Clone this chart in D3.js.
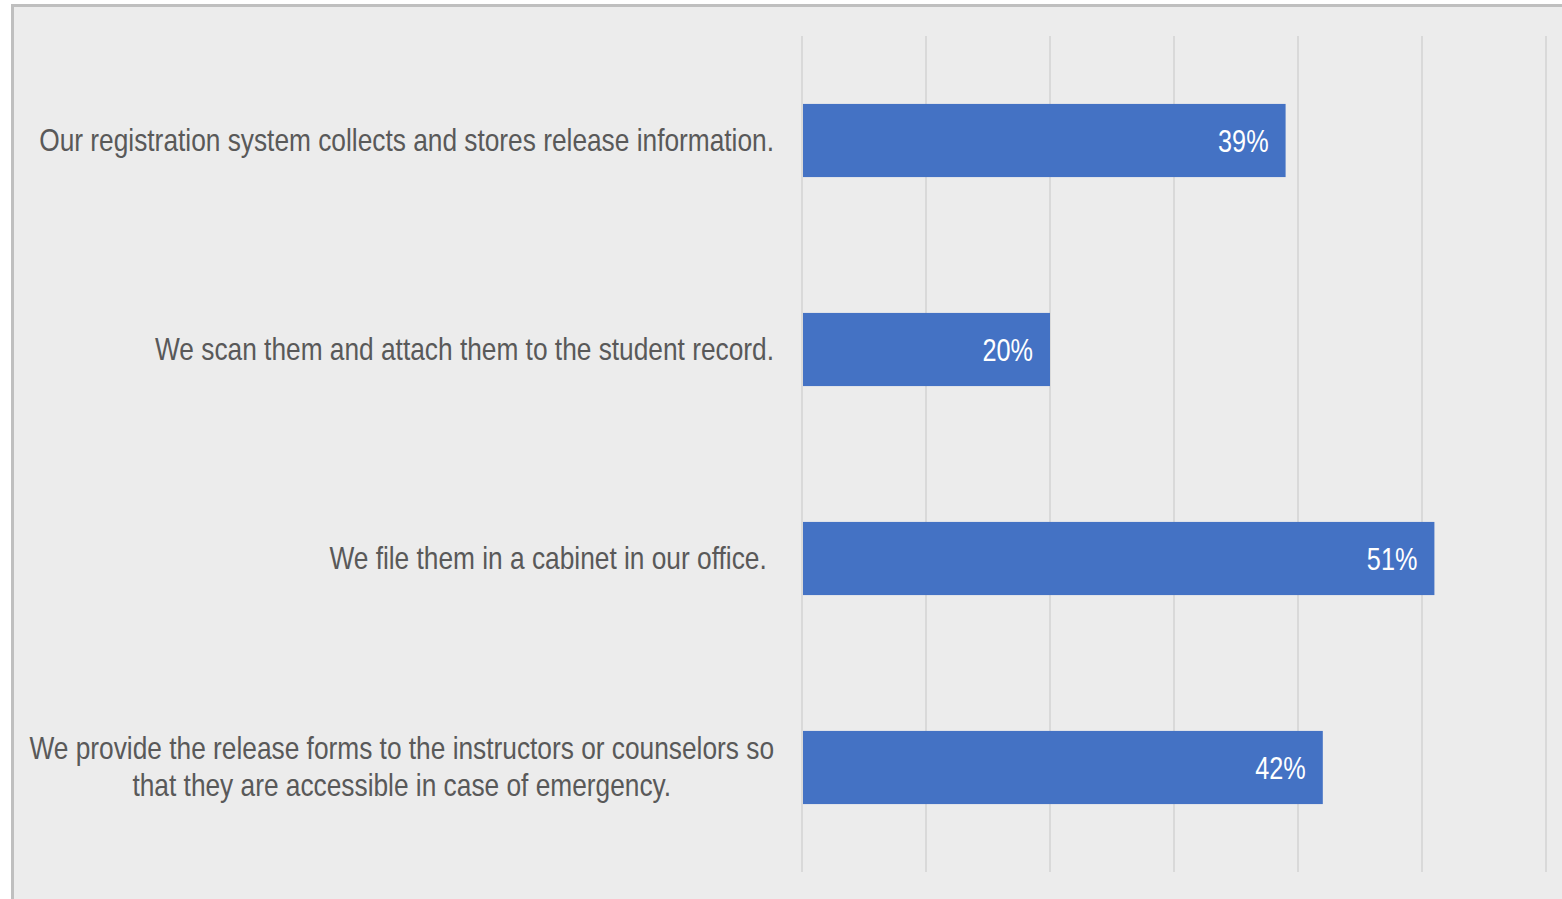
<!DOCTYPE html>
<html>
<head>
<meta charset="utf-8">
<script src="https://cdn.jsdelivr.net/npm/d3@7"></script>
<style>
  html, body { margin: 0; padding: 0; background: #ffffff; }
  svg { display: block; }
  text { font-family: "Liberation Sans", Arial, sans-serif; }
</style>
</head>
<body>
<svg id="chart" width="1562" height="899"></svg>
<script>
// Where release forms are kept (share of respondents)
const categories = [
  "Our registration system collects and stores release information.",
  "We scan them and attach them to the student record.",
  "We file them in a cabinet in our office. ",
  "We provide the release forms to the instructors or counselors so|that they are accessible in case of emergency."
];
const values = [39, 20, 51, 42];
const tickValues = [0, 10, 20, 30, 40, 50, 60];

const svg = d3.select("#chart");
const W = 1562, H = 899;
const FS = 31;              // font size
const NARROW_CAT = 0.848;   // horizontal squeeze for category labels
const NARROW_VAL = 0.815;   // horizontal squeeze for value labels

// Chart card with a grey border on top and left
svg.append("rect")
  .attr("x", 12.5).attr("y", 5.5)
  .attr("width", W + 20).attr("height", H + 20)
  .attr("fill", "#ececec")
  .attr("stroke", "#bfbfbf")
  .attr("stroke-width", 3);

const plot = { left: 802, right: 1546, top: 36, bottom: 872 };

const x = d3.scaleLinear().domain([0, 60]).range([plot.left, plot.right]);
const y = d3.scaleBand()
  .domain(categories)
  .range([plot.top, plot.bottom])
  .paddingInner(0.65)
  .paddingOuter(0.325);

// Vertical gridlines
svg.append("g")
  .selectAll("line")
  .data(tickValues)
  .join("line")
  .attr("x1", d => x(d)).attr("x2", d => x(d))
  .attr("y1", plot.top).attr("y2", plot.bottom)
  .attr("stroke", "#d9d9d9")
  .attr("stroke-width", 2);

// Bars
svg.append("g")
  .selectAll("rect")
  .data(values)
  .join("rect")
  .attr("x", x(0) + 1)
  .attr("y", (d, i) => y(categories[i]))
  .attr("width", d => x(d) - x(0) - 1)
  .attr("height", y.bandwidth())
  .attr("fill", "#4472c4");

// Text helper: squeezed text anchored at (tx, ty)
function narrowText(parent, tx, ty, anchor, str, fill, k) {
  const g = parent.append("g")
    .attr("transform", `translate(${tx},${ty}) scale(${k},1)`);
  return g.append("text")
    .attr("x", 0).attr("y", 0)
    .attr("dy", "0.36em")
    .attr("text-anchor", anchor)
    .attr("fill", fill)
    .attr("font-size", FS)
    .style("white-space", "pre")
    .text(str);
}

// Value labels inside bar ends
const valG = svg.append("g");
values.forEach((v, i) => {
  narrowText(valG, x(v) - 17, y(categories[i]) + y.bandwidth() / 2, "end", v + "%", "#ffffff", NARROW_VAL);
});

// Category labels (wrapped ones are centred line by line)
const labelRight = 774;
const lineH = 37;
const catG = svg.append("g");
categories.forEach(d => {
  const lines = d.split("|");
  const cy = y(d) + y.bandwidth() / 2 - 1;
  if (lines.length === 1) {
    narrowText(catG, labelRight, cy, "end", lines[0], "#595959", NARROW_CAT);
  } else {
    const first = narrowText(catG, 0, 0, "start", lines[0], "#595959", NARROW_CAT);
    const w = first.node().getComputedTextLength() * NARROW_CAT;
    first.node().parentNode.remove();
    const cx = labelRight - w / 2;
    lines.forEach((ln, k) => {
      narrowText(catG, cx, cy + (k - (lines.length - 1) / 2) * lineH, "middle", ln, "#595959", NARROW_CAT);
    });
  }
});
</script>
</body>
</html>
